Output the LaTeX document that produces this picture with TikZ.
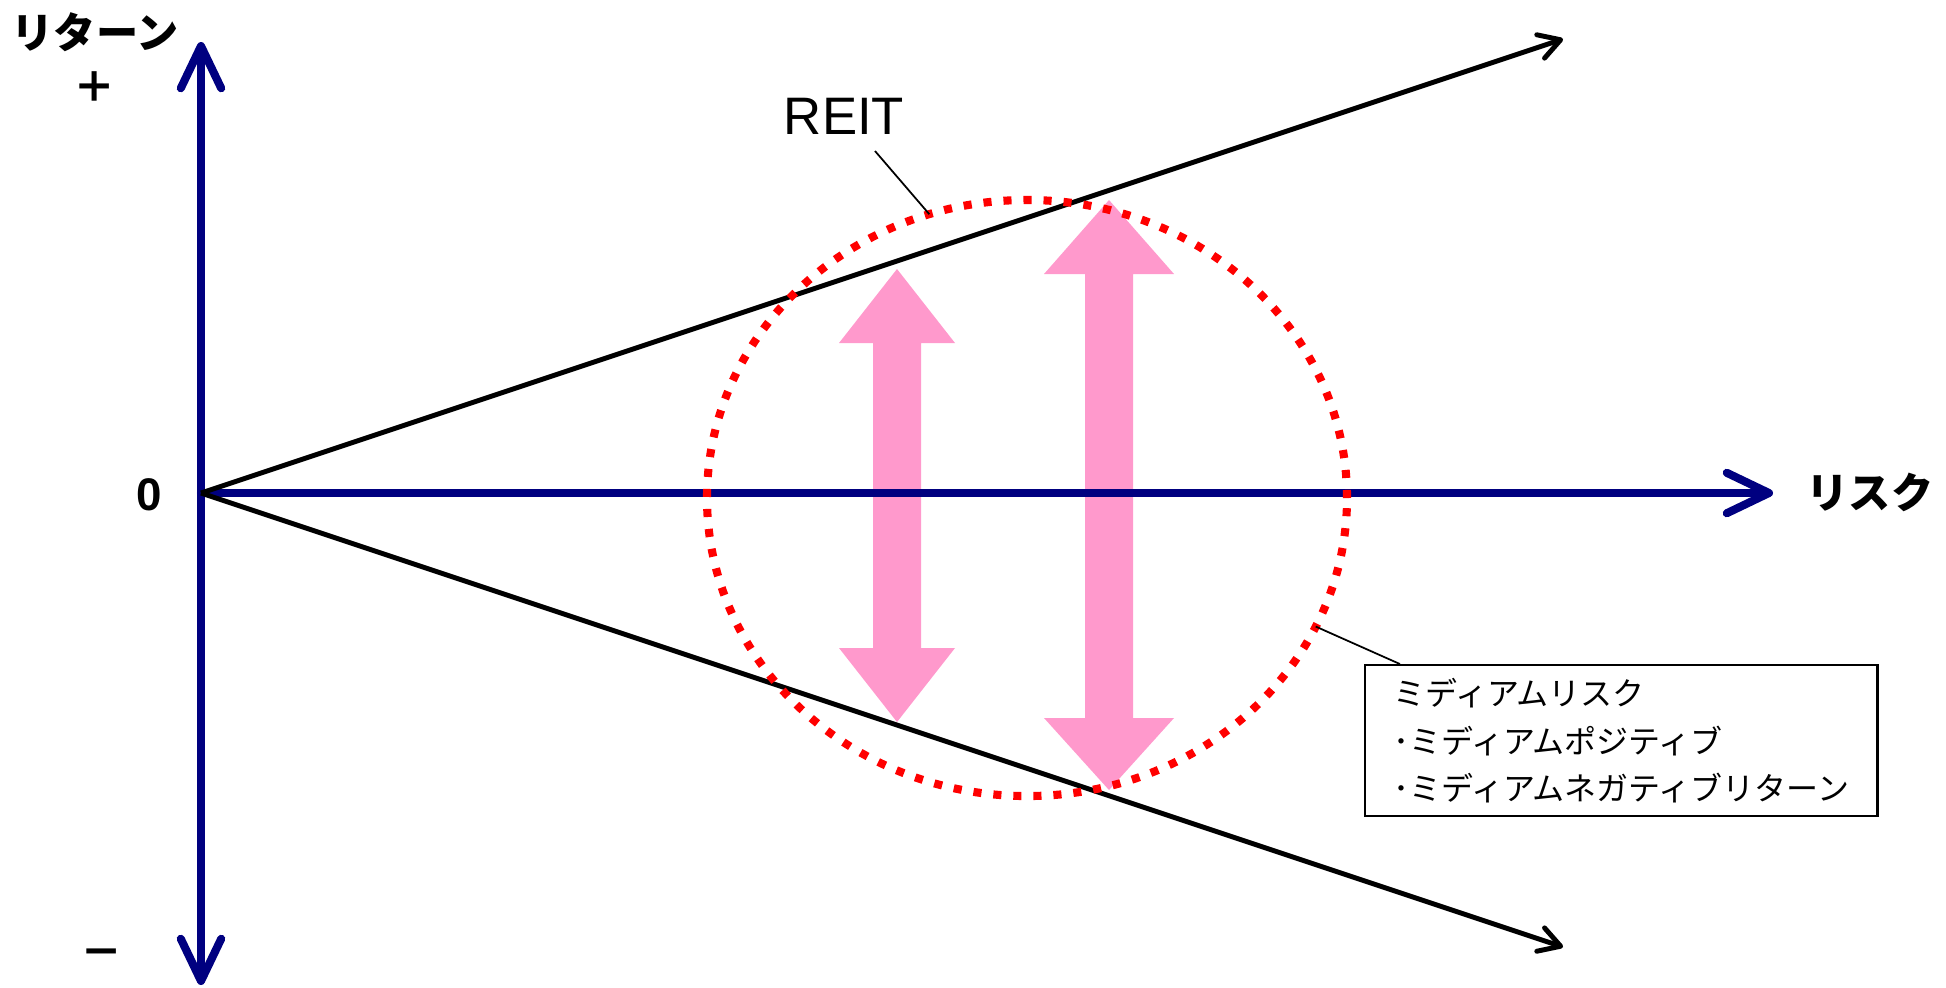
\documentclass[tikz,border=0pt]{standalone}
\usepackage{fontspec}
\setmainfont{Liberation Sans}
\newfontfamily\jpfont{Noto Sans CJK JP}
\usepackage{tikz}
\usetikzlibrary{arrows.meta,shapes.geometric}
\definecolor{axisblue}{HTML}{000080}
\definecolor{arrowpink}{HTML}{FF99CC}

\begin{document}
\begin{tikzpicture}[x=0.01cm,y=-0.01cm]
        \tikzset{axis/.style={draw=axisblue, line width=2.3pt, line cap=round},
                 barb/.tip={Straight Barb[length=12pt,width=11.5pt,round]},
                 ray/.style={draw=black, line width=1.4pt, -{Straight Barb[length=6pt,width=7pt,round]}},
                 band/.style={fill=arrowpink},
                 jplabel/.style={font=\jpfont\bfseries\fontsize{12}{14}\selectfont, inner sep=0pt},
                 sign/.style={font=\jpfont\bfseries\fontsize{12}{14}\selectfont, inner sep=0pt},
                 zone/.style={ellipse, draw=red, line width=2.3pt, dash pattern=on 2.3pt off 3.4pt,
                 minimum width=182pt, minimum height=169.5pt, inner sep=0pt, outer sep=0pt},
                 leader/.style={draw=black, line width=0.5pt},
                 notebox/.style={draw=black, line width=0.6pt, align=left, anchor=north west,
                 minimum width=145.7pt, minimum height=43pt, text width=129.7pt, inner xsep=8pt,
                 font=\jpfont\fontsize{9.1}{13.5}\selectfont}}
        \useasboundingbox (0,0) rectangle (1946,987);
        \coordinate (O) at (201,493);
        \coordinate (Xend) at (1773,493);
        \coordinate (Ytop) at (201,42);
        \coordinate (Ybot) at (201,985);
        \coordinate (Up) at (1563,39);
        \coordinate (Down) at (1563,947);
        \fill[band] (897,269) -- (955,343) -- (921,343) -- (921,648) -- (955,648) -- (897,722)
              -- (839,648) -- (873,648) -- (873,343) -- (839,343) -- cycle;
        \fill[band] (1109,200) -- (1174,274) -- (1133,274) -- (1133,718) -- (1174,718) -- (1109,790)
              -- (1044,718) -- (1085,718) -- (1085,274) -- (1044,274) -- cycle;
        \draw[axis, barb-barb] (Ybot) -- (Ytop);
        \draw[axis, -barb] (O) -- (Xend);
        \draw[ray] (O) -- (Up);
        \draw[ray] (O) -- (Down);
        \node[zone] (medium) at (1027,498) {};
        \node[jplabel] (ret) at (95,32) {リターン};
        \node[sign] (plus) at (95,87) {＋};
        \node[sign] (minus) at (102,958) {－};
        \node[font=\bfseries\fontsize{13}{15}\selectfont, inner sep=0pt] (zero) at (149,495) {0};
        \node[jplabel] (risk) at (1870,492) {リスク};
        \node[font=\fontsize{15}{17}\selectfont, inner sep=0pt] (reit) at (844,116) {REIT};
        \coordinate (reittail) at (875,151);
        \draw[leader] (reittail) -- (medium.109);
        \node[notebox] (note) at (1364,664) {ミディアムリスク\\･ミディアムポジティブ\\･ミディアムネガティブリターン};
        \draw[leader] ([xshift=10.2pt]note.north west) -- (medium.-24);
    \end{tikzpicture}
\end{document}
